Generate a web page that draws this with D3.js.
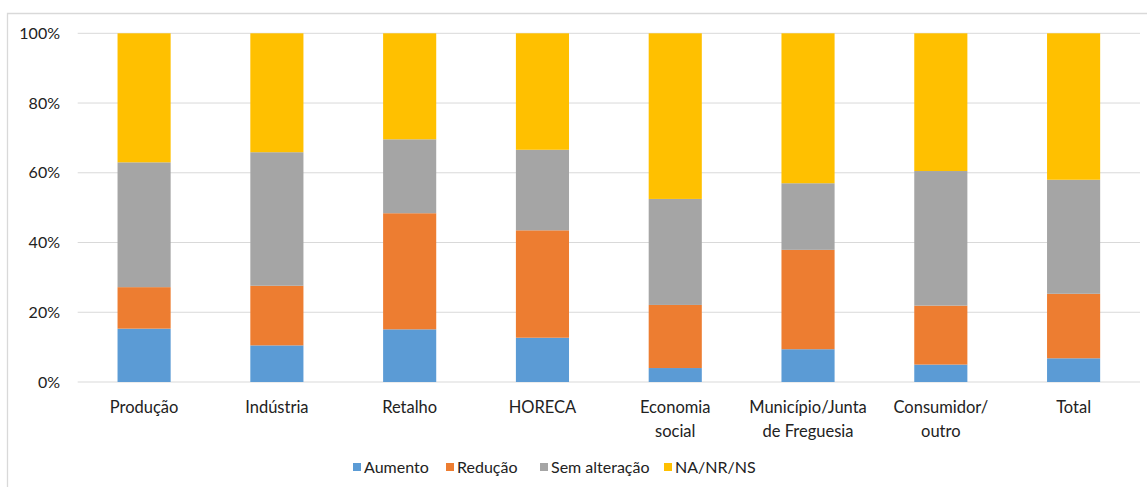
<!DOCTYPE html>
<html lang="pt">
<head>
<meta charset="UTF-8">
<title>stacked</title>
<script src="https://d3js.org/d3.v7.min.js"></script>
<style>
  body { margin: 0; background: #fff; }
  text { font-family: Lato, "Open Sans", sans-serif; fill: #222; }
</style>
</head>
<body>
<svg width="1147" height="487"></svg>
<script>
// categorias (linhas separadas por \n)
var categories = ["Produção", "Indústria", "Retalho", "HORECA", "Economia\nsocial",
                  "Município/Junta\nde Freguesia", "Consumidor/\noutro", "Total"];
var seriesNames = ["Aumento", "Redução", "Sem alteração", "NA/NR/NS"];
var aumento  = [15.3, 10.5, 15.1, 12.7,  4.0,  9.4,  5.0,  6.8];
var reducao  = [11.9, 17.1, 33.3, 30.8, 18.1, 28.5, 16.9, 18.5];
var semAlt   = [35.8, 38.3, 21.2, 23.1, 30.4, 19.1, 38.6, 32.7];
var naNrNs   = [37.0, 34.1, 30.4, 33.4, 47.5, 43.0, 39.5, 42.0];
var yTicks = [0, 20, 40, 60, 80, 100];
var colors = ["#5B9BD5", "#ED7D31", "#A5A5A5", "#FFC000"];

var svg = d3.select("svg");

// moldura do gráfico
svg.append("path")
  .attr("d", "M7.5,487 V13.5 H1147")
  .attr("fill", "none")
  .attr("stroke", "#d9d9d9")
  .attr("stroke-width", 1.3);

var plotL = 77.7, plotR = 1140, plotT = 33.3, plotB = 382;

// tabela para o stack
var rows = categories.map(function (c, i) {
  return { cat: c, "Aumento": aumento[i], "Redução": reducao[i],
           "Sem alteração": semAlt[i], "NA/NR/NS": naNrNs[i] };
});
var stacked = d3.stack().keys(seriesNames)
  .offset(d3.stackOffsetExpand)(rows);

var x = d3.scaleBand().domain(categories).range([plotL, plotR]).paddingInner(0.6).paddingOuter(0.3);
var y = d3.scaleLinear().domain([0, 1]).range([plotB, plotT]);

// grelha
svg.append("g").selectAll("line").data(yTicks).enter().append("line")
  .attr("x1", plotL).attr("x2", plotR)
  .attr("y1", function (d) { return y(d / 100); })
  .attr("y2", function (d) { return y(d / 100); })
  .attr("stroke", "#d9d9d9").attr("stroke-width", 1);

// rótulos eixo y
svg.append("g").selectAll("text").data(yTicks).enter().append("text")
  .attr("x", 60).attr("y", function (d) { return y(d / 100); })
  .attr("dy", "0.35em").attr("text-anchor", "end")
  .style("font-size", "16px")
  .text(function (d) { return d + "%"; });

// barras
svg.append("g").selectAll("g").data(stacked).enter().append("g")
  .attr("fill", function (d, i) { return colors[i]; })
  .selectAll("rect").data(function (d) { return d; }).enter().append("rect")
  .attr("x", function (d) { return x(d.data.cat); })
  .attr("width", x.bandwidth())
  .attr("y", function (d) { return y(d[1]); })
  .attr("height", function (d) { return y(d[0]) - y(d[1]); });

// rótulos eixo x
var xl = svg.append("g").selectAll("text").data(categories).enter().append("text")
  .attr("text-anchor", "middle")
  .style("font-size", "16.5px")
  .attr("x", function (d) { return x(d) + x.bandwidth() / 2; })
  .attr("y", 413);
xl.selectAll("tspan").data(function (d) { return d.split("\n"); }).enter().append("tspan")
  .attr("x", function () { var p = d3.select(this.parentNode).datum(); return x(p) + x.bandwidth() / 2; })
  .attr("dy", function (d, i) { return i ? 23.5 : 0; })
  .text(function (d) { return d; });

// legenda
var legendX = [353, 446, 540, 664];
var lg = svg.append("g").selectAll("g").data(seriesNames).enter().append("g")
  .attr("transform", function (d, i) { return "translate(" + legendX[i] + ",467)"; });
lg.append("rect").attr("x", 0).attr("y", -4).attr("width", 8).attr("height", 8)
  .attr("fill", function (d, i) { return colors[i]; });
lg.append("text").attr("x", 11).attr("dy", "0.35em")
  .style("font-size", "16px")
  .text(function (d) { return d; });
</script>
</body>
</html>
